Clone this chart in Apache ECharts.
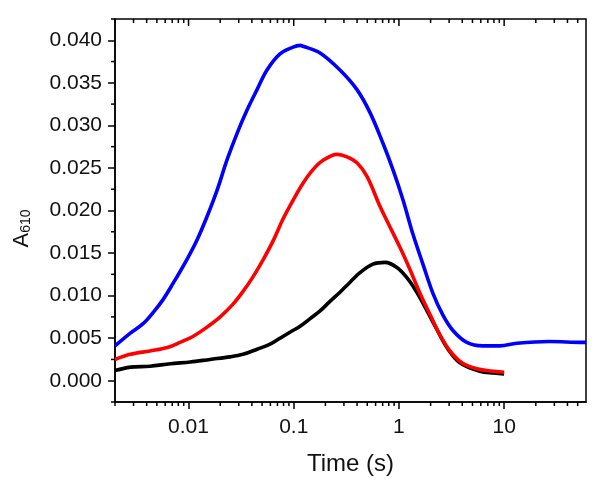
<!DOCTYPE html>
<html>
<head>
<meta charset="utf-8">
<script src="https://cdn.jsdelivr.net/npm/echarts@6/dist/echarts.min.js"></script>
<style>html,body{margin:0;padding:0;background:#fff}#c{width:600px;height:488px}</style>
</head>
<body>
<div id="c"></div>
<script>
// ---- data (time in s, absorbance at 610 nm) ----
const blackTime = [0.002, 0.0028, 0.0043, 0.0067, 0.0104, 0.016, 0.0248, 0.033, 0.0448, 0.0596, 0.0741, 0.092, 0.115, 0.143, 0.178, 0.22, 0.275, 0.345, 0.426, 0.566, 0.736, 0.957, 1.19, 1.48, 1.85, 2.3, 2.86, 3.8, 5.88, 8, 10];
const blackA610 = [0.0012, 0.0016, 0.0017, 0.0020, 0.0022, 0.0025, 0.0028, 0.0031, 0.0037, 0.0043, 0.0050, 0.0057, 0.0064, 0.0073, 0.0082, 0.0093, 0.0104, 0.0116, 0.0127, 0.0137, 0.0139, 0.0133, 0.0121, 0.0104, 0.0082, 0.0060, 0.0039, 0.0021, 0.0011, 0.0009, 0.0008];

const redTime = [0.002, 0.0028, 0.0043, 0.0063, 0.0083, 0.011, 0.015, 0.02, 0.0265, 0.033, 0.041, 0.0511, 0.0635, 0.0791, 0.0985, 0.1225, 0.1525, 0.19, 0.258, 0.321, 0.399, 0.497, 0.66, 0.82, 1.02, 1.27, 1.58, 1.97, 2.45, 3.05, 3.7, 4.42, 5.5, 6.85, 10];
const redA610 = [0.0025, 0.0031, 0.0035, 0.0039, 0.0045, 0.0052, 0.0063, 0.0075, 0.0090, 0.0105, 0.0122, 0.0142, 0.0164, 0.0190, 0.0212, 0.0232, 0.0248, 0.0259, 0.0266, 0.0263, 0.0256, 0.0240, 0.0205, 0.0181, 0.0157, 0.0131, 0.0103, 0.0078, 0.0054, 0.0035, 0.0024, 0.0018, 0.0014, 0.0012, 0.0010];

const blueTime = [0.002, 0.0028, 0.0037, 0.0046, 0.0057, 0.0071, 0.0097, 0.0121, 0.015, 0.0187, 0.0233, 0.029, 0.036, 0.0448, 0.0557, 0.074, 0.0985, 0.115, 0.1225, 0.178, 0.275, 0.399, 0.531, 0.705, 0.877, 1.09, 1.36, 1.69, 2.1, 2.62, 3.26, 4.42, 6.28, 9.1, 13.2, 27, 56, 60];
const blueA610 = [0.0041, 0.0056, 0.0067, 0.0080, 0.0095, 0.0114, 0.0143, 0.0166, 0.0193, 0.0224, 0.0260, 0.0291, 0.0318, 0.0342, 0.0365, 0.0384, 0.0392, 0.0394, 0.0393, 0.0385, 0.0365, 0.0342, 0.0315, 0.0279, 0.0248, 0.0213, 0.0172, 0.0137, 0.0103, 0.0077, 0.0059, 0.0045, 0.0041, 0.0041, 0.0044, 0.0046, 0.0045, 0.0045];

// ---- ticks ----
const xMajorTicks = [0.01, 0.1, 1, 10];
const xTickLabels = ['0.01', '0.1', '1', '10'];
const xMinorTicks = [0.002, 0.003, 0.004, 0.005, 0.006, 0.007, 0.008, 0.009,
  0.02, 0.03, 0.04, 0.05, 0.06, 0.07, 0.08, 0.09,
  0.2, 0.3, 0.4, 0.5, 0.6, 0.7, 0.8, 0.9,
  2, 3, 4, 5, 6, 7, 8, 9, 20, 30, 40, 50];
const yMajorTicks = [0, 0.005, 0.01, 0.015, 0.02, 0.025, 0.03, 0.035, 0.04];
const yTickLabels = ['0.000', '0.005', '0.010', '0.015', '0.020', '0.025', '0.030', '0.035', '0.040'];
const yMinorTicks = [-0.0025, 0.0025, 0.0075, 0.0125, 0.0175, 0.0225, 0.0275, 0.0325, 0.0375, 0.0425];

const X_MIN = 0.002, X_MAX = 60, Y_MIN = -0.0025, Y_MAX = 0.0425;
const FONT = '"Liberation Sans", Arial, sans-serif';

function pairs(t, v) { return t.map((x, i) => [x, v[i]]); }

const chart = echarts.init(document.getElementById('c'), null, { renderer: 'canvas' });
const lineStyleAxis = { color: '#000', width: 1.5 };

// tick marks drawn through the axes' own scales (api.coord)
function tickSeries(values, side, len, inward) {
  const data = values.map(v => side === 'left' ? [X_MIN, v] : [v, side === 'top' ? Y_MAX : Y_MIN]);
  return {
    type: 'custom', xAxisIndex: 0, yAxisIndex: 0, clip: false, silent: true, z: 10,
    encode: { x: 0, y: 1 },
    data: data,
    renderItem: function (params, api) {
      const p = api.coord([api.value(0), api.value(1)]);
      let x2 = p[0], y2 = p[1];
      if (side === 'bottom') y2 = p[1] + (inward ? -len : len);
      else if (side === 'top') y2 = p[1] + (inward ? len : -len);
      else x2 = p[0] + (inward ? len : -len);
      return { type: 'line', shape: { x1: p[0], y1: p[1], x2: x2, y2: y2 }, style: { stroke: '#000', lineWidth: 1.5 } };
    }
  };
}

chart.setOption({
  animation: false,
  backgroundColor: '#fff',
  grid: { left: 114, right: 14, top: 19, bottom: 86, show: true, borderColor: '#000', borderWidth: 1.5, backgroundColor: 'transparent' },
  xAxis: {
    type: 'log', logBase: 10, min: X_MIN, max: X_MAX, position: 'bottom',
    splitLine: { show: false }, minorTick: { show: false },
    axisLine: { show: true, onZero: false, lineStyle: lineStyleAxis },
    axisTick: { show: true, inside: false, length: 7, lineStyle: lineStyleAxis, customValues: xMajorTicks },
    axisLabel: {
      show: true, margin: 15, color: '#111', fontSize: 21, fontFamily: FONT,
      customValues: xMajorTicks,
      formatter: function (v) { const i = xMajorTicks.findIndex(t => Math.abs(Math.log10(t) - Math.log10(v)) < 1e-6); return i >= 0 ? xTickLabels[i] : ''; }
    },
    name: 'Time (s)', nameLocation: 'middle', nameGap: 50,
    nameTextStyle: { fontSize: 24, color: '#111', fontFamily: FONT }
  },
  yAxis: {
    type: 'value', min: Y_MIN, max: Y_MAX, position: 'left',
    splitLine: { show: false },
    axisLine: { show: true, onZero: false, lineStyle: lineStyleAxis },
    axisTick: { show: true, inside: false, length: 7, lineStyle: lineStyleAxis, customValues: yMajorTicks },
    axisLabel: {
      show: true, margin: 13, color: '#111', fontSize: 21, fontFamily: FONT,
      customValues: yMajorTicks,
      formatter: function (v) { const i = yMajorTicks.findIndex(t => Math.abs(t - v) < 1e-9); return i >= 0 ? yTickLabels[i] : ''; }
    },
    name: '{a|A}{b|610}', nameLocation: 'middle', nameRotate: 90, nameGap: 82,
    nameTextStyle: {
      color: '#111', fontFamily: FONT, padding: [0, 36, 0, 0],
      rich: {
        a: { fontSize: 22, fontFamily: FONT, color: '#111', verticalAlign: 'top', lineHeight: 22 },
        b: { fontSize: 14, fontFamily: FONT, color: '#111', verticalAlign: 'bottom', lineHeight: 14, padding: [11, 0, 0, 0] }
      }
    }
  },
  series: [
    { name: 'black', type: 'line', data: pairs(blackTime, blackA610), showSymbol: false, symbol: 'none', smooth: 0.35, lineStyle: { color: '#000', width: 3.6 }, z: 2 },
    { name: 'red', type: 'line', data: pairs(redTime, redA610), showSymbol: false, symbol: 'none', smooth: 0.35, lineStyle: { color: '#f00', width: 3.6 }, z: 3 },
    { name: 'blue', type: 'line', data: pairs(blueTime, blueA610), showSymbol: false, symbol: 'none', smooth: 0.35, lineStyle: { color: '#00f', width: 3.6 }, z: 4 },
    tickSeries(xMinorTicks, 'bottom', 4, false),
    tickSeries(xMajorTicks, 'top', 7, true),
    tickSeries(xMinorTicks, 'top', 4, true),
    tickSeries(yMinorTicks, 'left', 4, false)
  ]
});
</script>
</body>
</html>
